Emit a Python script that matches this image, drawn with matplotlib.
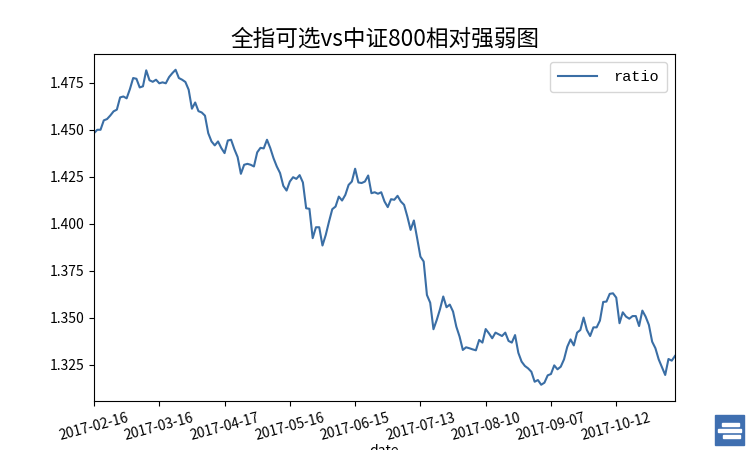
import matplotlib
matplotlib.use('Agg')
import matplotlib.pyplot as plt
from matplotlib.patches import Rectangle

plt.rcParams['font.family'] = ['Noto Sans CJK SC', 'DejaVu Sans']

title = '全指可选vs中证800相对强弱图'
tick_dates = ['2017-02-16', '2017-03-16', '2017-04-17', '2017-05-16', '2017-06-15',
              '2017-07-13', '2017-08-10', '2017-09-07', '2017-10-12']
ratio = [
    1.4482, 1.4500, 1.4500, 1.4550, 1.4557, 1.4576, 1.4598, 1.4607, 1.4672, 1.4677,
    1.4667, 1.4716, 1.4775, 1.4771, 1.4725, 1.4731, 1.4816, 1.4763, 1.4755, 1.4766,
    1.4747, 1.4752, 1.4747, 1.4780, 1.4801, 1.4819, 1.4775, 1.4766, 1.4754, 1.4713,
    1.4612, 1.4645, 1.4599, 1.4592, 1.4575, 1.4482, 1.4438, 1.4417, 1.4438, 1.4403,
    1.4376, 1.4443, 1.4447, 1.4397, 1.4355, 1.4266, 1.4314, 1.4319, 1.4314, 1.4305,
    1.4380, 1.4404, 1.4401, 1.4447, 1.4403, 1.4349, 1.4305, 1.4270, 1.4202, 1.4177,
    1.4225, 1.4248, 1.4239, 1.4259, 1.4220, 1.4083, 1.4080, 1.3924, 1.3982, 1.3982,
    1.3885, 1.3941, 1.4012, 1.4078, 1.4092, 1.4145, 1.4124, 1.4154, 1.4207, 1.4225,
    1.4293, 1.4220, 1.4217, 1.4225, 1.4257, 1.4163, 1.4168, 1.4160, 1.4168, 1.4119,
    1.4089, 1.4131, 1.4128, 1.4149, 1.4119, 1.4101, 1.4039, 1.3968, 1.4018, 1.3924,
    1.3826, 1.3800, 1.3622, 1.3581, 1.3440, 1.3489, 1.3546, 1.3614, 1.3557, 1.3571,
    1.3534, 1.3454, 1.3401, 1.3330, 1.3344, 1.3339, 1.3333, 1.3328, 1.3383, 1.3369,
    1.3441, 1.3418, 1.3392, 1.3422, 1.3413, 1.3404, 1.3422, 1.3378, 1.3369, 1.3409,
    1.3315, 1.3268, 1.3245, 1.3232, 1.3214, 1.3161, 1.3170, 1.3145, 1.3156, 1.3195,
    1.3202, 1.3248, 1.3227, 1.3241, 1.3280, 1.3347, 1.3386, 1.3354, 1.3422, 1.3436,
    1.3502, 1.3436, 1.3404, 1.3450, 1.3450, 1.3486, 1.3585, 1.3587, 1.3628, 1.3631,
    1.3608, 1.3472, 1.3530, 1.3507, 1.3496, 1.3510, 1.3510, 1.3457, 1.3539, 1.3507,
    1.3463, 1.3374, 1.3339, 1.3280, 1.3238, 1.3197, 1.3282, 1.3273, 1.3298,
]
yticks = [1.325, 1.350, 1.375, 1.400, 1.425, 1.450, 1.475]

fig = plt.figure(figsize=(7.5, 4.5), dpi=100)
ax = fig.add_axes([94 / 750, 1 - 400.5 / 450, 581 / 750, 346.5 / 450])

ax.plot(range(len(ratio)), ratio, color='#3a6ea5', linewidth=1.5, label='ratio')
ax.set_xlim(0, len(ratio) - 1)
ax.margins(y=0.05)
ax.set_yticks(yticks)
ax.set_yticklabels(['%.3f' % v for v in yticks], fontsize=10)
ax.set_xticks(range(0, 20 * len(tick_dates), 20))
ax.set_xticklabels(tick_dates, rotation=15, fontsize=10)
ax.tick_params(axis='x', pad=4)
ax.set_xlabel('date', fontsize=10, labelpad=1)
ax.set_title(title, fontsize=16.3, pad=6)
leg = ax.legend(loc='upper right', handlelength=2.5, handletextpad=1.1, borderpad=0.55,
                prop={'family': ['Liberation Mono'], 'size': 11})

# logo in the bottom right corner
fig.add_artist(Rectangle((715 / 750, 1 - 445 / 450), 29 / 750, 30 / 450,
                         transform=fig.transFigure, color='#3f6fb0'))
fig.add_artist(Rectangle((722 / 750, 1 - 426 / 450), 17 / 750, 3 / 450,
                         transform=fig.transFigure, color='white'))
fig.add_artist(Rectangle((718 / 750, 1 - 432 / 450), 23 / 750, 3 / 450,
                         transform=fig.transFigure, color='white'))
fig.add_artist(Rectangle((723 / 750, 1 - 438 / 450), 17 / 750, 3 / 450,
                         transform=fig.transFigure, color='white'))

fig.savefig('out.png', dpi=100)
